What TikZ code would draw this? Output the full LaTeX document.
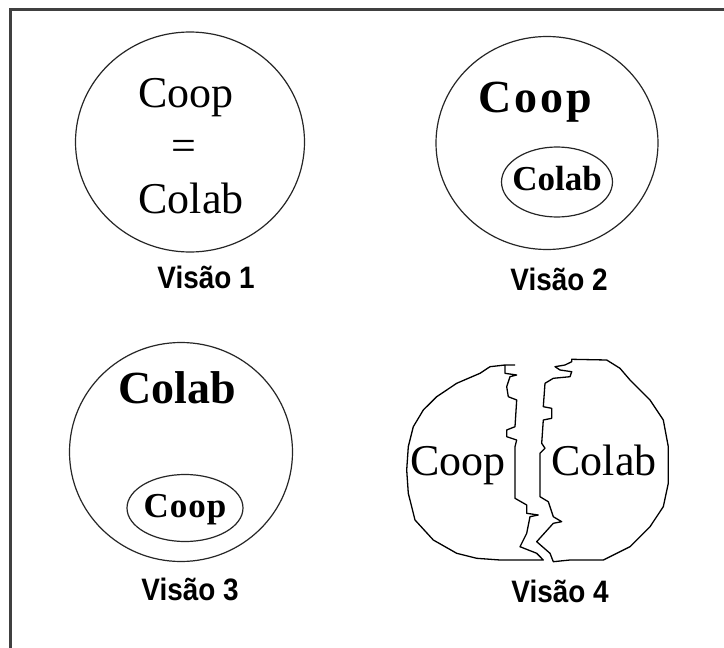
\documentclass[tikz,border=0pt]{standalone}
\usepackage{fontspec}
\setmainfont{Liberation Serif}
\newfontfamily\labfont{Liberation Sans}
\usetikzlibrary{shapes.geometric}
\tikzset{
  ring/.style={draw=black!85, line width=1.2pt, ellipse, inner sep=0pt},
  big/.style={anchor=base, inner sep=0pt, font=\fontsize{44}{44}\selectfont},
  bigb/.style={anchor=base, inner sep=0pt, font=\fontsize{46}{46}\selectfont\bfseries},
  smallb/.style={anchor=base, inner sep=0pt, font=\fontsize{35}{35}\selectfont\bfseries},
  vis/.style={anchor=base, inner sep=0pt, font=\labfont\bfseries\fontsize{31}{31}\selectfont},
  piece/.style={draw=black, line width=1.3pt, line join=round}
}
\newcommand{\vlab}[1]{\scalebox{0.9}[1]{#1}}
\begin{document}
\begin{tikzpicture}[x=1pt,y=-1pt]
\useasboundingbox (0,0) rectangle (724,648);
\fill[white] (0,0) rectangle (724,648);
\draw[black!75, line width=2.2pt] (730,9.5) -- (10.5,9.5) -- (10.5,660);
% Vision 1
\node[ring, minimum width=229pt, minimum height=220pt] (c1) at (190,142) {};
\node[big] (coop1) at (186,107) {Coop};
\node[big] (eq1) at (184,160) {=};
\node[big] (colab1) at (191,213) {Colab};
\node[vis] (v1) at (206,288) {\vlab{Visão 1}};
% Vision 2
\node[ring, minimum width=222pt, minimum height=213pt] (c2) at (547,143) {};
\node[bigb] (coop2) at (535,112) {C\kern3pt o\kern3pt o\kern3pt p};
\node[ring, minimum width=111pt, minimum height=70pt] (e2) at (557,182) {};
\node[smallb] (colab2) at (557,190) {Colab};
\node[vis] (v2) at (559,290) {\vlab{Visão 2}};
% Vision 3
\node[ring, minimum width=223pt, minimum height=219pt] (c3) at (181,452) {};
\node[bigb] (colab3) at (177,403) {Colab};
\node[ring, minimum width=116pt, minimum height=67pt] (e3) at (185,508) {};
\node[smallb] (coop3) at (185,517) {C\kern1pt o\kern1pt o\kern1pt p};
\node[vis] (v3) at (190,600) {\vlab{Visão 3}};
% Vision 4
\draw[piece] (515,365) -- (505,365) -- (490,366.7) -- (480,373.3) -- (456.7,383.3)
  -- (436.7,396.7) -- (423.3,410) -- (413.3,426.7) -- (408.3,446.7) -- (406.7,470)
  -- (408.3,493.3) -- (415,520) -- (433.3,540) -- (456.7,553.3) -- (476.7,558.3)
  -- (500,560) -- (543.3,560) -- (536.7,553.3) -- (520,546.7) -- (526.7,533.3)
  -- (530,516.7) -- (538.3,515) -- (526.7,513.3) -- (526.7,505) -- (515,498.3)
  -- (515,446.7) -- (516.7,440) -- (506.7,436.7) -- (506.7,430) -- (515,426.7)
  -- (516.7,400) -- (508.3,396.7) -- (506.7,386.7) -- (510,376.7) -- (516.7,375)
  -- (505,373.3) -- (505,365);
\draw[piece] (571.7,359.3) -- (606.7,360) -- (620,368.3) -- (630,380) -- (650,400)
  -- (663.3,420) -- (668.3,446.7) -- (668.3,483.3) -- (663.3,506.7) -- (650,526.7)
  -- (630,546.7) -- (603.3,560) -- (570,560) -- (553.3,561.7) -- (550,553.3)
  -- (536.7,541.7) -- (553.3,523.3) -- (561.7,521.7) -- (553.3,516.7) -- (548.3,501.7)
  -- (540,496.7) -- (540,453.3) -- (545,448.3) -- (541.7,443.3) -- (543.3,420)
  -- (551.7,418.3) -- (551.7,408.3) -- (543.3,406.7) -- (545,383.3) -- (553.3,378.3)
  -- (570,376.7) -- (571.7,371.7) -- (560,370) -- (555,366.7) -- (565,365)
  -- (571.7,361.7) -- cycle;
\node[big] (coop4) at (458,475) {Coop};
\node[big] (colab4) at (604,475) {Colab};
\node[vis] (v4) at (560,602) {\vlab{Visão 4}};
\end{tikzpicture}
\end{document}
